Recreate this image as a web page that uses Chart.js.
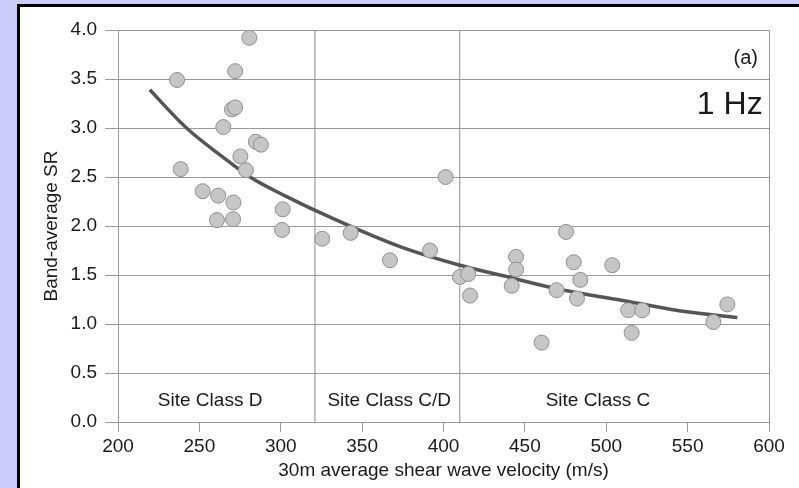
<!DOCTYPE html>
<html>
<head>
<meta charset="utf-8">
<script src="https://cdn.jsdelivr.net/npm/chart.js@4/dist/chart.umd.min.js"></script>
<style>
  html, body { margin: 0; padding: 0; background: #ccccfa; width: 799px; height: 488px; overflow: hidden; }
  #panel { position: absolute; left: 17px; top: 4px; width: 779px; height: 481px; background: #fff;
           border-left: 3px solid #000; border-top: 3px solid #000; }
  canvas { display: block; }
</style>
</head>
<body>
<div id="panel"><canvas id="c" width="779" height="481"></canvas></div>
<script>
// ---- data ----
const vs30 = [280.7, 272.0, 236.3, 270.0, 272.0, 264.7, 284.7, 287.8, 275.2, 278.6, 238.5, 252.0, 261.6, 270.9,
              301.2, 260.8, 270.7, 300.8, 325.5, 343.0, 367.1, 391.7, 401.3, 410.1, 415.2, 416.3, 441.9, 444.6,
              444.6, 460.3, 469.5, 475.3, 480.0, 484.1, 482.0, 503.7, 513.5, 522.1, 515.6, 565.8, 574.4];
const bandSR = [3.92, 3.58, 3.49, 3.19, 3.21, 3.01, 2.86, 2.83, 2.71, 2.57, 2.58, 2.355, 2.31, 2.24,
                2.17, 2.06, 2.07, 1.96, 1.87, 1.93, 1.65, 1.75, 2.50, 1.48, 1.51, 1.29, 1.39, 1.685,
                1.556, 0.81, 1.345, 1.94, 1.63, 1.45, 1.26, 1.60, 1.14, 1.14, 0.91, 1.02, 1.20];
const fitV  = [219.5, 242.1, 264.7, 281.1, 303.6, 330.3, 373.3, 410.1, 434.7, 469.5, 513.5, 549.4, 580.5];
const fitSR = [3.39, 3.00, 2.70, 2.50, 2.30, 2.09, 1.79, 1.60, 1.50, 1.36, 1.23, 1.125, 1.067];
const classBounds = [321, 410];
const classNames = ['Site Class D', 'Site Class C/D', 'Site Class C'];
const xTicks = [200, 250, 300, 350, 400, 450, 500, 550, 600];
const yTicks = [0.0, 0.5, 1.0, 1.5, 2.0, 2.5, 3.0, 3.5, 4.0];

// ---- chart ----
const FONT = 'Liberation Sans, Arial, sans-serif';
const GRID = '#9a9a9a';

const pts = vs30.map((v, i) => ({ x: v, y: bandSR[i] }));
const fit = fitV.map((v, i) => ({ x: v, y: fitSR[i] }));
const boundDatasets = classBounds.map(b => ({
  type: 'line', data: [{ x: b, y: yTicks[0] }, { x: b, y: yTicks[yTicks.length - 1] }],
  borderColor: '#8a8a8a', borderWidth: 1, pointRadius: 0, order: 3, fill: false
}));

// label placement (layout, not data)
const classLabelX = [256.6, 366.6, 494.9];
const classLabelY = 0.22;

const textPlugin = {
  id: 'texts',
  afterDatasetsDraw(chart) {
    const { ctx, scales: { x, y } } = chart;
    ctx.save();
    ctx.fillStyle = '#1a1a1a';
    ctx.textBaseline = 'middle';
    ctx.textAlign = 'center';
    ctx.font = '19px ' + FONT;
    classNames.forEach((n, i) => ctx.fillText(n, x.getPixelForValue(classLabelX[i]), y.getPixelForValue(classLabelY)));
    ctx.textAlign = 'right';
    ctx.font = '20px ' + FONT;
    ctx.fillText('(a)', x.getPixelForValue(593.2), y.getPixelForValue(3.71));
    ctx.font = '32px ' + FONT;
    ctx.fillText('1 Hz', x.getPixelForValue(596.1), y.getPixelForValue(3.23));
    ctx.restore();
  }
};

new Chart(document.getElementById('c'), {
  type: 'scatter',
  data: {
    datasets: [
      { data: pts, backgroundColor: '#c6c6c6', borderColor: '#8f8f8f', borderWidth: 1,
        pointRadius: 7.5, order: 0 },
      { type: 'line', data: fit, borderColor: '#555555', borderWidth: 3.5, pointRadius: 0,
        cubicInterpolationMode: 'monotone', fill: false, order: 1 },
      ...boundDatasets
    ]
  },
  options: {
    responsive: false,
    devicePixelRatio: 1,
    animation: false,
    layout: { padding: { top: 23, right: 30, left: 0, bottom: 0 } },
    plugins: { legend: { display: false }, tooltip: { enabled: false } },
    scales: {
      x: {
        type: 'linear', min: xTicks[0], max: xTicks[xTicks.length - 1],
        afterBuildTicks(s) { s.ticks = xTicks.map(v => ({ value: v })); },
        afterFit(s) { s.height = 66; },
        border: { display: true, color: GRID, width: 1 },
        grid: { color: c => (c.tick && c.tick.value === 600) ? GRID : 'rgba(0,0,0,0)',
                tickColor: GRID, tickLength: 10, drawOnChartArea: true },
        ticks: { font: { family: FONT, size: 19 }, color: '#1a1a1a', padding: 3, maxRotation: 0 },
        title: { display: true, text: '30m average shear wave velocity (m/s)',
                 font: { family: FONT, size: 19 }, color: '#1a1a1a', padding: { top: 0, bottom: 6 } }
      },
      y: {
        type: 'linear', min: yTicks[0], max: yTicks[yTicks.length - 1],
        afterBuildTicks(s) { s.ticks = yTicks.map(v => ({ value: v })); },
        afterFit(s) { s.width = 98; },
        border: { display: true, color: GRID, width: 1 },
        grid: { color: GRID, tickColor: GRID, tickLength: 13 },
        ticks: { font: { family: FONT, size: 19 }, color: '#1a1a1a', padding: 8,
                 callback: v => Number(v).toFixed(1) },
        title: { display: true, text: 'Band-average SR',
                 font: { family: FONT, size: 19 }, color: '#1a1a1a', padding: { top: 20, bottom: 0 } }
      }
    }
  },
  plugins: [textPlugin]
});
</script>
</body>
</html>
